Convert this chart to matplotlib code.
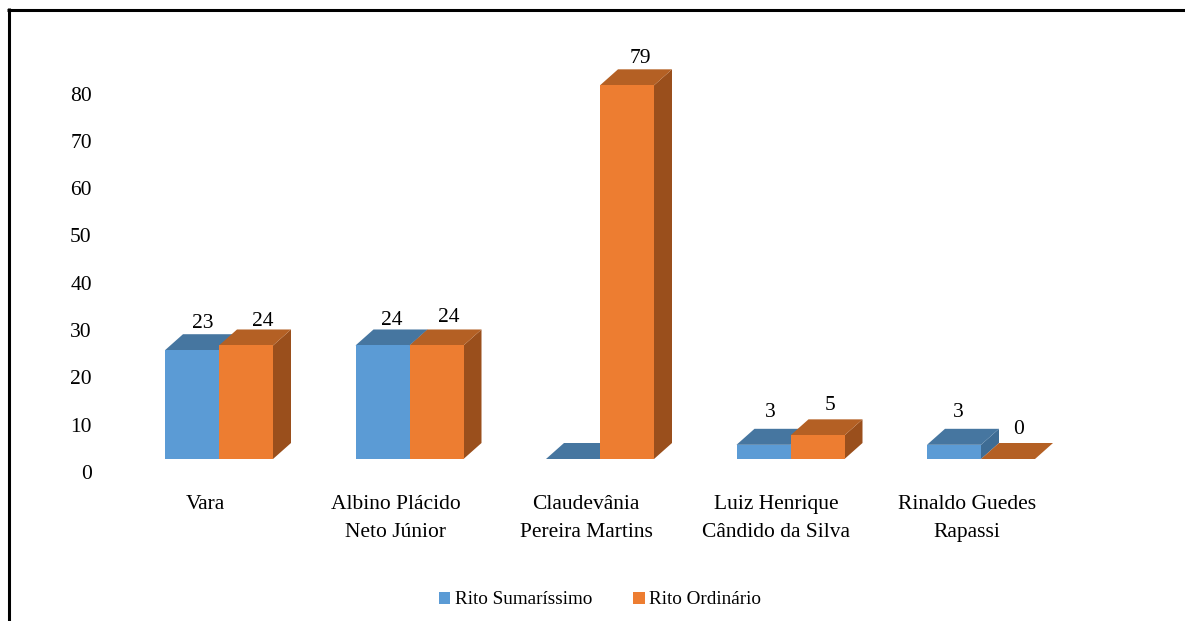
import numpy as np
import matplotlib
matplotlib.use('Agg')
import matplotlib.pyplot as plt
from matplotlib.lines import Line2D
from matplotlib.patches import Polygon, Patch
from matplotlib.transforms import ScaledTranslation

categories = ['Vara', 'Albino Plácido\nNeto Júnior', 'Claudevânia\nPereira Martins',
              'Luiz Henrique\nCândido da Silva', 'Rinaldo Guedes\nRapassi']
sumarissimo = [23, 24, 0, 3, 3]
ordinario = [24, 24, 79, 5, 0]
series_names = ['Rito Sumaríssimo', 'Rito Ordinário']
y_ticks = [0, 10, 20, 30, 40, 50, 60, 70, 80]

# which value labels the source shows, and how far each one sits from its bar (pixels)
show_blue = [True, True, False, True, True]
blue_label_dx = [11, 9, 0, 7, 4]
orange_label_dx = [17, 12, 13, 13, 11]
blue_label_dy = [27, 25, 0, 32, 32]
orange_label_dy = [24, 28, 27, 30, 29]

W, H = 1185, 621
DPI = 100
plt.rcParams['font.family'] = ['Liberation Serif', 'DejaVu Serif']

fig = plt.figure(figsize=(W / DPI, H / DPI), dpi=DPI, facecolor='white')

# axes in pixel terms: zero line at y=459, 4.73 px per unit, 190.5 px per category
ax_left, ax_right = 123.75, 1076.25
ax_bottom, ax_top = 459, 40
px_x = 190.5
px_y = 4.73
ax = fig.add_axes([ax_left / W, 1 - ax_bottom / H, (ax_right - ax_left) / W, (ax_bottom - ax_top) / H])
ax.set_xlim(-0.5, 4.5)
ax.set_ylim(0, (ax_bottom - ax_top) / px_y)
ax.patch.set_alpha(0)
for s in ax.spines.values():
    s.set_visible(False)

bar_w = 54 / px_x
dx = 18 / px_x
dy = 16 / px_y


def draw_bar(x, v, front, top, side):
    left, right = x, x + bar_w
    ax.add_patch(Polygon([(right, 0), (right + dx, dy), (right + dx, v + dy), (right, v)],
                         facecolor=side, edgecolor='none', clip_on=False))
    ax.add_patch(Polygon([(left, v), (left + dx, v + dy), (right + dx, v + dy), (right, v)],
                         facecolor=top, edgecolor='none', clip_on=False))
    ax.bar(x, v, bar_w, align='edge', color=front, clip_on=False)


xs = np.arange(len(categories))
for i in xs:
    draw_bar(i - bar_w, sumarissimo[i], '#5B9BD5', '#4676A0', '#3E6C94')
    draw_bar(i, ordinario[i], '#ED7D31', '#B46024', '#9A4F1C')

label_size = 15.5
for i in xs:
    if show_blue[i]:
        ax.annotate(str(sumarissimo[i]), (i - bar_w / 2, sumarissimo[i]),
                    xytext=(blue_label_dx[i] * 0.72, blue_label_dy[i] * 0.72), textcoords='offset points',
                    ha='center', va='center', fontsize=label_size)
    ax.annotate(str(ordinario[i]), (i + bar_w / 2, ordinario[i]),
                xytext=(orange_label_dx[i] * 0.72, orange_label_dy[i] * 0.72), textcoords='offset points',
                ha='center', va='center', fontsize=label_size)

# tick labels sit below/left of the floor because of the 3d look
ax.tick_params(axis='both', length=0)
ax.set_yticks(y_ticks)
ax.set_yticklabels([str(t) for t in y_ticks], fontsize=label_size)
ax.tick_params(axis='y', pad=23)
ax.set_xticks(xs)
ax.set_xticklabels(categories, fontsize=label_size, linespacing=1.6)
ax.tick_params(axis='x', pad=26)
for lab in ax.get_yticklabels():
    lab.set_transform(lab.get_transform() + ScaledTranslation(0, -13 / DPI, fig.dpi_scale_trans))
for lab in ax.get_xticklabels():
    lab.set_transform(lab.get_transform() + ScaledTranslation(-14 / DPI, 0, fig.dpi_scale_trans))

handles = [Patch(facecolor='#5B9BD5', label=series_names[0]),
           Patch(facecolor='#ED7D31', label=series_names[1])]
fig.legend(handles=handles, ncol=2, frameon=False, fontsize=13.8,
           loc='center', bbox_to_anchor=(600 / W, 1 - 600 / H),
           handlelength=0.62, handleheight=0.62, handletextpad=0.25, columnspacing=2.1)

# black frame of the source screenshot: only top and left are visible
fig.add_artist(Line2D([8.5 / W, 8.5 / W], [0, 1 - 8 / H], color='black', lw=2.2, solid_capstyle='butt'))
fig.add_artist(Line2D([7 / W, 1], [1 - 9.5 / H, 1 - 9.5 / H], color='black', lw=2.2, solid_capstyle='butt'))

fig.savefig('out.png', dpi=DPI, facecolor='white')
